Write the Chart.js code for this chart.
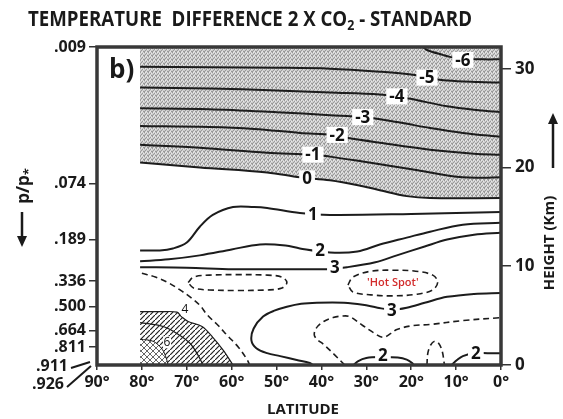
<!DOCTYPE html>
<html>
<head>
<meta charset="utf-8">
<script src="https://cdn.jsdelivr.net/npm/chart.js@4.4.0/dist/chart.umd.min.js"></script>
<style>
  html, body { margin: 0; padding: 0; background: #fff; }
</style>
</head>
<body>
<canvas id="myChart" width="563" height="419"></canvas>
<script>
// axes (latitude in deg, height in km, pressure ratio labels)
const latTicks = [90, 80, 70, 60, 50, 40, 30, 20, 10, 0];
const heightTicks = [0, 10, 20, 30];
const pLabels = ['.009', '.074', '.189', '.336', '.500', '.664', '.811'];
const pHeights = [32.2, 18.4, 12.7, 8.5, 5.9, 3.5, 1.8];
const surfaceLabels = ['.911', '.926'];
const titleParts = ['TEMPERATURE  DIFFERENCE 2 X CO', '2', ' - STANDARD'];

// contour lines, [latitude, height]
const cM6 = [[17.4,32.2],[16.5,31.9],[13,31.4],[11.4,31.2],[8.5,31.0],[4,30.95],[0,30.95]];
const cM5 = [[80.4,30.2],[65,30.15],[50,30.1],[38.1,30.0],[27.0,29.7],[19.6,29.4],[16.5,29.1],[12.0,28.8],[5,28.65],[0,28.6]];
const cM4 = [[80.4,28.1],[65,28.0],[50,27.8],[38.1,27.6],[27.0,27.4],[23.2,27.2],[19.6,26.9],[12.0,26.2],[5,25.8],[0,25.6]];
const cM3 = [[80.4,26.0],[65,25.9],[50,25.6],[38.1,25.3],[30.8,25.1],[23.2,24.6],[15.8,24.0],[8.5,23.5],[0,23.1]];
const cM2 = [[80.4,24.2],[65,24.1],[55,23.9],[44.8,23.5],[37.4,23.3],[34.3,23.0],[27.0,22.5],[15.8,21.8],[6,21.4],[0,21.3]];
const cM1 = [[80.4,22.3],[67.1,22.0],[52.1,21.5],[41.9,21.3],[38.1,21.1],[30.8,20.6],[19.6,19.8],[8.5,19.0],[0,19.0]];
const cZero = [[80.4,20.5],[67.1,20.0],[52.1,19.5],[44.8,19.0],[38.1,18.7],[30.8,18.1],[27.0,17.7],[21,17.1],[15.8,16.9],[0,16.9]];
const c1 = [[80.4,11.6],[76,11.6],[73.1,11.8],[70.0,12.4],[67.1,14.0],[64.2,15.2],[59.7,16.0],[55,16.0],[52.1,15.9],[44.8,15.4],[38.1,15.2],[20,15.3],[0,15.5]];
const c2 = [[80.4,10.5],[74,10.7],[67.1,11.1],[60,11.7],[53.7,12.2],[48,12.1],[44.8,11.8],[38.1,11.4],[32,11.5],[27.0,12.2],[21,12.9],[15.8,13.5],[8.5,14.2],[0,14.4]];
const c3 = [[80.4,9.9],[70,9.85],[59.7,9.7],[45,9.7],[38.8,9.7],[34.3,9.9],[28,10.4],[23.2,11.1],[17,12.0],[12.0,12.7],[6,13.2],[0,13.4]];
const c3Low = [[0,7.3],[6,7.2],[12.0,6.9],[17,6.3],[21.0,5.8],[24.3,5.6],[27.5,5.8],[30.8,6.1],[35,6.3],[41.0,6.3],[44.5,6.2],[47.7,5.9],[50.5,5.5],[53.0,4.9],[55.1,3.7],[55.6,2.5],[54.5,1.7],[52.1,1.2],[49.2,0.9],[45.5,0.5],[42.6,0.2],[41.9,0]];
const c2LowL = [[32.8,0],[31.8,0.4],[30,0.7],[27,0.8],[23,0.75],[21,0.55],[19.8,0.2],[19.5,0]];
const c2LowR = [[11,0],[9.8,0.5],[8.5,0.9],[6,1.2],[3,1.2],[0,1.2]];
const dashLeft = [[80.0,9.3],[77,8.9],[74.4,8.4],[71.5,7.6],[69,6.8],[67,6.0],[65.5,5.1],[63,4.0],[61,3.0],[58.5,1.8],[56.5,0.5],[56,0]];
const dashLow = [[34.8,0],[37.0,1.0],[39.3,2.0],[41.5,2.9],[41.2,3.7],[39.5,4.4],[37.4,4.8],[35.5,4.95],[33.7,4.9],[30.8,4.0],[28.5,3.3],[26.3,2.8],[24.5,3.2],[23.2,3.6],[19.5,4.0],[15.8,4.1],[8.5,4.5],[0,4.8]];
const dashArch = [[16.5,0],[16.3,1.2],[15.7,2.0],[14.8,2.4],[13.9,2.2],[13.1,1.4],[12.6,0]];
const ellLeft = [[69.7,8.35],[68.5,8.9],[65,9.1],[58.8,9.15],[52,9.1],[48.8,8.9],[47.7,8.35],[48.8,7.8],[52,7.6],[58.8,7.55],[65,7.6],[68.5,7.8],[69.7,8.35]];
const ellHot = [[34.1,8.1],[33,8.9],[29,9.5],[24,9.6],[19,9.5],[15.2,9.1],[14.1,8.4],[15.2,7.6],[19,7.15],[24,7.0],[29,7.1],[33,7.4],[34.1,8.1]];
const hatchEdge = [[80.4,5.4],[76,5.4],[72.2,5.35],[71.2,4.9],[69.7,4.4],[66.6,3.9],[64.2,2.8],[61.9,1.5],[59.7,0]];
const inner5 = [[80.4,4.3],[75.3,3.9],[72.2,3.2],[69.3,2.2],[67.5,1.0],[66.4,0]];
const inner6 = [[80.4,2.6],[77.5,2.4],[75.5,1.6],[74.5,0.6],[74.2,0]];

// contour values and where their labels sit [text, lat, height]
const contourLabels = [['-6',8.5,30.9],['-5',16.5,29.1],['-4',23.2,27.2],['-3',30.8,25.1],['-2',36.5,23.3],['-1',41.9,21.3],['0',43.2,18.9],['1',41.9,15.3],['2',40.3,11.6],['3',37.0,9.9],['3',24.3,5.6],['2',26.3,1.0],['2',5.6,1.2]];
const smallLabels = [['4',70.4,5.6],['6',74.4,2.3]];
const hotSpot = ["'Hot Spot'", 24.1, 8.3];

const canvas = document.getElementById('myChart');
const context = canvas.getContext('2d');
const FONT = '"Open Sans", "DejaVu Sans", sans-serif';

function stipplePattern() {
  const c = document.createElement('canvas');
  c.width = 4; c.height = 4;
  const g = c.getContext('2d');
  g.fillStyle = '#cdcdcd'; g.fillRect(0, 0, 4, 4);
  g.fillStyle = '#999';
  [[0,0],[2,1],[1,2],[3,3],[0,3]].forEach(([a, b]) => g.fillRect(a, b, 1, 1));
  g.fillStyle = '#e8e8e8';
  [[1,0],[3,1],[2,3]].forEach(([a, b]) => g.fillRect(a, b, 1, 1));
  return context.createPattern(c, 'repeat');
}

function hatchPattern(step, cross, width, color) {
  const c = document.createElement('canvas');
  c.width = step; c.height = step;
  const g = c.getContext('2d');
  g.fillStyle = '#fff'; g.fillRect(0, 0, step, step);
  g.strokeStyle = color; g.lineWidth = width;
  g.beginPath();
  g.moveTo(-1, step + 1); g.lineTo(step + 1, -1);
  if (cross) { g.moveTo(-1, -1); g.lineTo(step + 1, step + 1); }
  g.stroke();
  return context.createPattern(c, 'repeat');
}

const pts = arr => arr.map(([x, y]) => ({ x, y }));
function line(arr, extra) {
  return Object.assign({
    data: pts(arr), showLine: true, pointRadius: 0, borderColor: '#1c1c1c',
    borderWidth: 2, tension: 0.35, fill: false
  }, extra || {});
}
const dashed = { borderDash: [6, 4], borderWidth: 1.6 };

const datasets = [
  line(inner6, { fill: 'start', backgroundColor: hatchPattern(6, true, 0.9, '#555'), borderWidth: 1 }),
  line(hatchEdge, { fill: 'start', backgroundColor: hatchPattern(5, false, 1.2, '#222'), borderWidth: 1.2 }),
  line(cZero, { fill: 'end', backgroundColor: stipplePattern() }),
  line(inner5, { borderWidth: 1.2 }),
  line(cM6), line(cM5), line(cM4), line(cM3), line(cM2), line(cM1),
  line(c1), line(c2), line(c3), line(c3Low), line(c2LowL), line(c2LowR),
  line(dashLeft, dashed), line(dashLow, dashed), line(dashArch, dashed),
  line(ellLeft, dashed), line(ellHot, dashed)
];

function arrow(ctx, x, y1, y2) {
  // vertical arrow from y1 to tip at y2
  const dir = y2 > y1 ? 1 : -1;
  ctx.beginPath();
  ctx.moveTo(x, y1); ctx.lineTo(x, y2 - dir * 8);
  ctx.lineWidth = 2.5; ctx.stroke();
  ctx.beginPath();
  ctx.moveTo(x, y2); ctx.lineTo(x - 5, y2 - dir * 11); ctx.lineTo(x + 5, y2 - dir * 11);
  ctx.closePath(); ctx.fill();
}

const decor = {
  id: 'decor',
  beforeDraw(chart) {
    const ctx = chart.ctx;
    ctx.save();
    ctx.fillStyle = '#fff';
    ctx.fillRect(0, 0, chart.width, chart.height);
    ctx.restore();
  },
  afterDatasetsDraw(chart) {
    const { ctx, chartArea: a, scales: { x, y } } = chart;
    ctx.save();
    ctx.textAlign = 'center'; ctx.textBaseline = 'middle';
    ctx.font = 'bold 17px ' + FONT;
    contourLabels.forEach(([t, lat, h]) => {
      const px = x.getPixelForValue(lat), py = y.getPixelForValue(h);
      const w = ctx.measureText(t).width + 6;
      ctx.fillStyle = '#fff';
      ctx.fillRect(px - w / 2, py - 8, w, 16);
      ctx.fillStyle = '#111';
      ctx.fillText(t, px, py + 1);
    });
    ctx.font = '12px ' + FONT;
    smallLabels.forEach(([t, lat, h]) => {
      const px = x.getPixelForValue(lat), py = y.getPixelForValue(h);
      ctx.fillStyle = '#fff';
      ctx.fillRect(px - 4, py - 6, 8, 12);
      ctx.fillStyle = '#111';
      ctx.fillText(t, px, py);
    });
    ctx.font = '600 11px ' + FONT;
    ctx.fillStyle = '#d22b2b';
    ctx.fillText(hotSpot[0], x.getPixelForValue(hotSpot[1]), y.getPixelForValue(hotSpot[2]));

    // frame
    ctx.strokeStyle = '#383838'; ctx.lineWidth = 3.5;
    ctx.strokeRect(a.left, a.top, a.right - a.left, a.bottom - a.top);
    ctx.restore();
  },
  afterDraw(chart) {
    const { ctx, chartArea: a } = chart;
    ctx.save();
    ctx.fillStyle = '#1a1a1a'; ctx.strokeStyle = '#1a1a1a';

    // title, squeezed to the width it has in the figure
    const fonts = ['bold 21px ' + FONT, 'bold 14px ' + FONT, 'bold 21px ' + FONT];
    const shifts = [0, 4, 0];
    let total = 0;
    titleParts.forEach((t, i) => { ctx.font = fonts[i]; total += ctx.measureText(t).width; });
    ctx.save();
    ctx.translate(28, 26); ctx.scale(444 / total, 1);
    ctx.textBaseline = 'alphabetic'; ctx.textAlign = 'left';
    let cx = 0;
    titleParts.forEach((t, i) => { ctx.font = fonts[i]; ctx.fillText(t, cx, shifts[i]); cx += ctx.measureText(t).width; });
    ctx.restore();

    // panel letter
    ctx.font = 'bold 26px ' + FONT;
    ctx.textAlign = 'left'; ctx.textBaseline = 'alphabetic';
    ctx.fillText('b)', a.left + 12, a.top + 31);

    // x title
    ctx.font = 'bold 15px ' + FONT;
    ctx.textAlign = 'center'; ctx.textBaseline = 'middle';
    ctx.fillText('LATITUDE', 303, 410);

    // right title
    ctx.save();
    ctx.translate(550, 243); ctx.rotate(-Math.PI / 2);
    ctx.fillText('HEIGHT (Km)', 0, 0);
    ctx.restore();
    arrow(ctx, 553, 168, 113);

    // left title p/p*
    ctx.save();
    ctx.translate(24, 186); ctx.rotate(-Math.PI / 2);
    ctx.font = 'bold 17px ' + FONT;
    ctx.textAlign = 'left';
    const w1 = ctx.measureText('p/p').width;
    ctx.fillText('p/p', -(w1 + 7) / 2, 0);
    ctx.font = 'bold 13px ' + FONT;
    ctx.fillText('*', -(w1 + 7) / 2 + w1, 5);
    ctx.restore();
    arrow(ctx, 22, 212, 247);

    // surface pressure labels with leader lines
    ctx.font = 'bold 16px ' + FONT;
    ctx.textAlign = 'right';
    ctx.fillText(surfaceLabels[0], 68, 366);
    ctx.fillText(surfaceLabels[1], 64, 384);
    ctx.lineWidth = 2;
    ctx.beginPath();
    ctx.moveTo(71, 368); ctx.lineTo(90, 362);
    ctx.moveTo(67, 387); ctx.lineTo(91, 366);
    ctx.stroke();
    ctx.restore();
  }
};

const tickFont = size => ({ family: FONT, size: size, weight: 'bold' });

new Chart(context, {
  type: 'scatter',
  data: { datasets: datasets },
  options: {
    responsive: false,
    animation: false,
    layout: { padding: { top: 47, left: 0, right: 0, bottom: 0 } },
    plugins: {
      legend: { display: false },
      tooltip: { enabled: false },
      filler: { drawTime: 'beforeDatasetsDraw' }
    },
    scales: {
      x: {
        type: 'linear', reverse: true, min: 0, max: 90,
        afterBuildTicks: s => { s.ticks = latTicks.map(v => ({ value: v })); },
        afterFit: s => { s.height = 54; },
        ticks: { callback: v => v + '°', autoSkip: false, maxRotation: 0, padding: 3, color: '#1a1a1a', font: tickFont(16) },
        grid: { drawOnChartArea: false, tickLength: 5, color: '#333', lineWidth: 1.5 },
        border: { display: false }
      },
      y: {
        type: 'linear', position: 'right', min: 0, max: 32.2,
        afterBuildTicks: s => { s.ticks = heightTicks.map(v => ({ value: v })); },
        afterFit: s => { s.width = 62; },
        ticks: { autoSkip: false, padding: 4, color: '#1a1a1a', font: tickFont(17) },
        grid: { drawOnChartArea: false, tickLength: 10, color: '#333', lineWidth: 1.5 },
        border: { display: false }
      },
      yp: {
        type: 'linear', position: 'left', min: 0, max: 32.2,
        afterBuildTicks: s => { s.ticks = pHeights.map(v => ({ value: v })); },
        afterFit: s => { s.width = 97; },
        ticks: { callback: (v, i) => pLabels[i], autoSkip: false, padding: 3, color: '#1a1a1a', font: tickFont(16) },
        grid: { drawOnChartArea: false, tickLength: 8, color: '#333', lineWidth: 1.5 },
        border: { display: false }
      }
    }
  },
  plugins: [decor]
});
</script>
</body>
</html>
